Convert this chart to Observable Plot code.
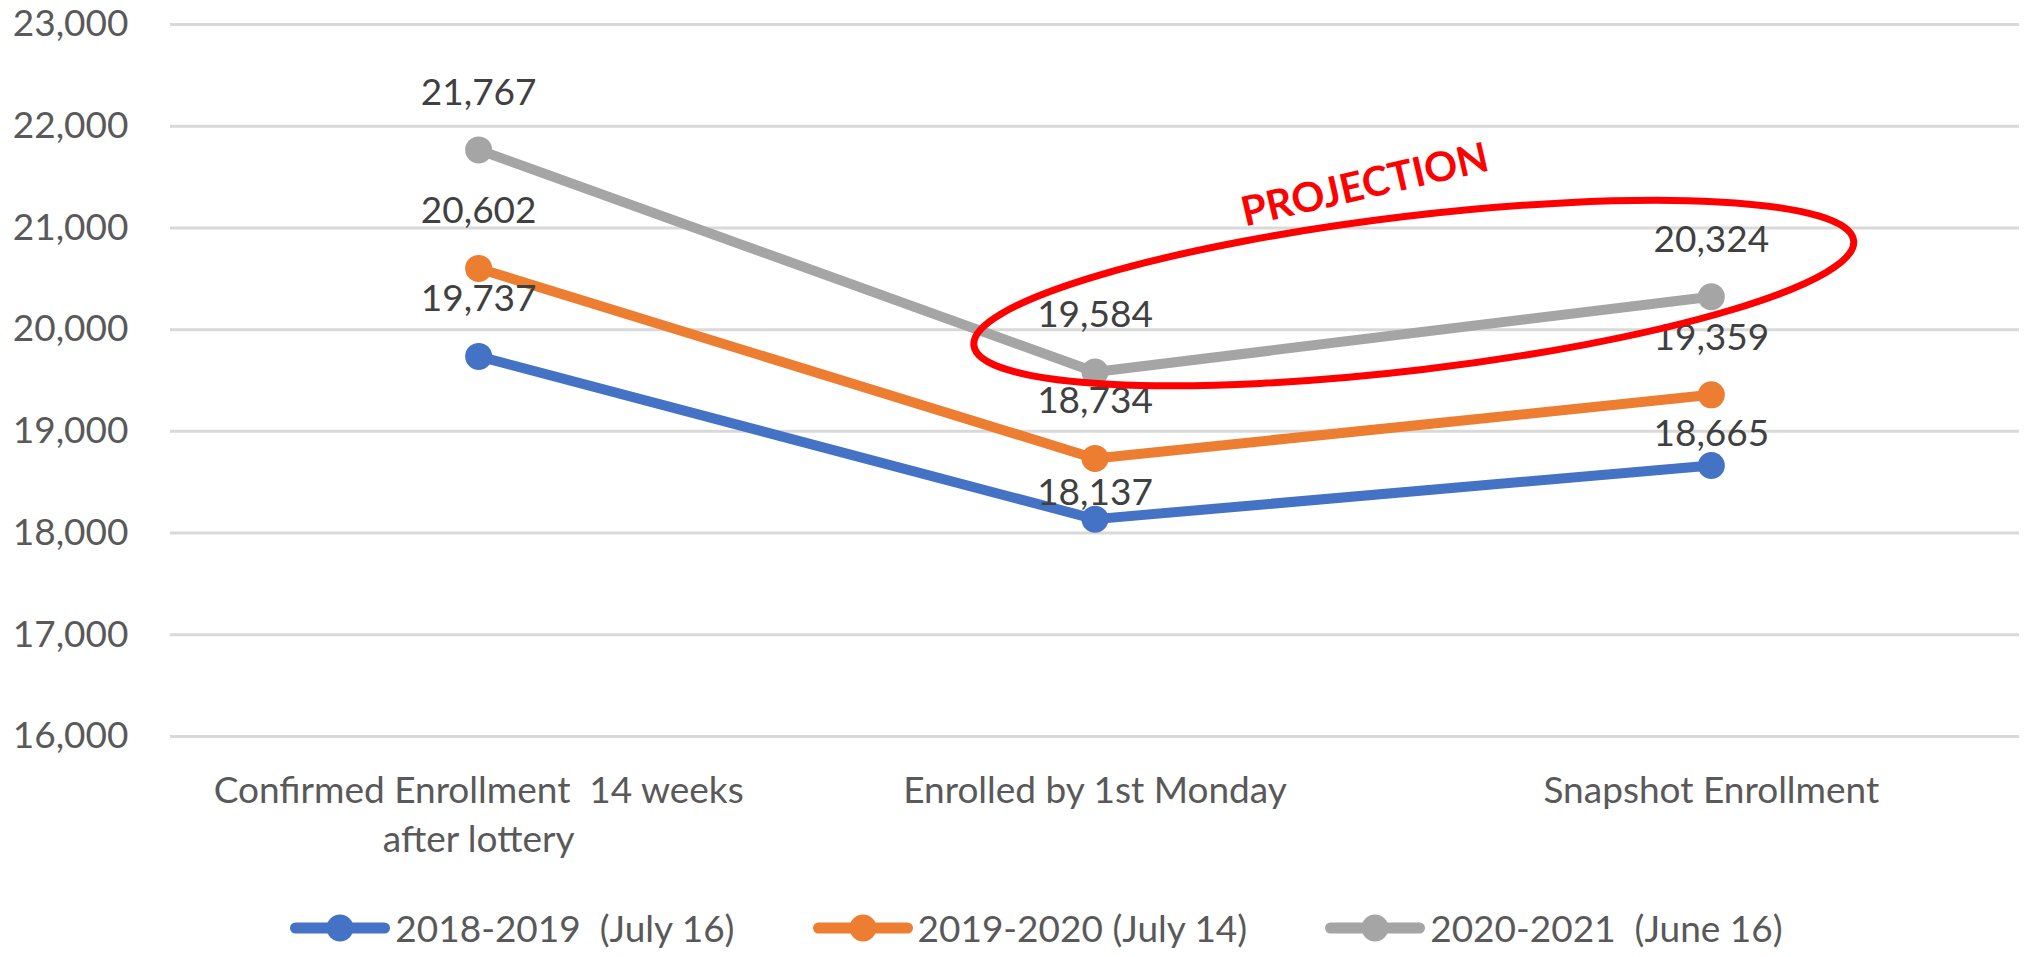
<!DOCTYPE html>
<html>
<head>
<meta charset="utf-8">
<script src="https://cdn.jsdelivr.net/npm/d3@7"></script>
<script src="https://cdn.jsdelivr.net/npm/@observablehq/plot@0.6"></script>
<style>
  html, body { margin: 0; padding: 0; background: #fff; }
  #chart { width: 2025px; }
  .legend { display: flex; justify-content: center; align-items: center; gap: 78px; height: 75px; padding-left: 48px;
            font-family: Lato, "Open Sans", sans-serif; font-size: 37px; color: #595959; }
  .legend .item { display: flex; align-items: center; white-space: pre; }
  .legend svg { margin-right: 5px; }
</style>
</head>
<body>
<div id="chart"></div>
<script>
// ---- data ----
const categories = ["Confirmed Enrollment \u00a014 weeks\nafter lottery", "Enrolled by 1st Monday", "Snapshot Enrollment"];
const seriesNames = ["2018-2019  (July 16)", "2019-2020 (July 14)", "2020-2021  (June 16)"];
const values2018 = [19737, 18137, 18665];
const values2019 = [20602, 18734, 19359];
const values2020 = [21767, 19584, 20324];
const seriesColors = ["#4472C4", "#ED7D31", "#A5A5A5"];
const yTicks = [16000, 17000, 18000, 19000, 20000, 21000, 22000, 23000];
const annotationText = "PROJECTION";

// ---- build table ----
const seriesValues = [values2018, values2019, values2020];
const rows = [];
seriesNames.forEach((s, k) => seriesValues[k].forEach((v, i) => rows.push({series: s, i, value: v})));

// a couple of labels sit closer to their points in the original
const nudged = new Map([[seriesNames[0] + "|1", -26], [seriesNames[0] + "|2", -31]]);
const keyOf = d => d.series + "|" + d.i;
const fmt = d3.format(",");
const font = "Lato, 'Open Sans', sans-serif";

const marks = [
  Plot.gridY(yTicks, {stroke: "#D9D9D9", strokeOpacity: 1, strokeWidth: 3}),
  Plot.axisY(yTicks, {tickFormat: fmt, tickSize: 0, tickPadding: 42, fontSize: 37, fill: "#595959", label: null}),
  Plot.axisX([0, 1, 2], {tickFormat: i => categories[i], tickSize: 0, tickPadding: 32, fontSize: 37, lineHeight: 1.32, fill: "#595959", label: null})
];
seriesNames.forEach(s => {
  const d = rows.filter(r => r.series === s);
  marks.push(Plot.line(d, {x: "i", y: "value", stroke: "series", strokeWidth: 10, strokeLinejoin: "round", strokeLinecap: "round"}));
  marks.push(Plot.dot(d, {x: "i", y: "value", fill: "series", r: 13.5, stroke: null}));
});
marks.push(Plot.text(rows.filter(d => !nudged.has(keyOf(d))), {x: "i", y: "value", text: d => fmt(d.value), dy: -57, fontSize: 37, fill: "#404040"}));
nudged.forEach((dy, key) => {
  marks.push(Plot.text(rows.filter(d => keyOf(d) === key), {x: "i", y: "value", text: d => fmt(d.value), dy, fontSize: 37, fill: "#404040"}));
});
marks.push(Plot.text([{i: 1.438, value: 21417}], {x: "i", y: "value", text: () => annotationText, rotate: -12.9, fontSize: 41, fontWeight: "bold", fill: "#FF0000"}));

const plot = Plot.plot({
  width: 2025,
  height: 890,
  marginLeft: 170,
  marginRight: 6,
  marginTop: 24,
  marginBottom: 154,
  style: {fontFamily: font, background: "#fff", overflow: "visible"},
  x: {type: "linear", domain: [-0.5, 2.5], axis: null},
  y: {domain: [16000, 23000], axis: null},
  color: {domain: seriesNames, range: seriesColors},
  marks
});

// ellipse around the projected values (centre given in data coordinates)
const xs = plot.scale("x"), ys = plot.scale("y");
const cx = xs.apply(1.518), cy = ys.apply(20355);
d3.select(plot).append("ellipse")
  .attr("cx", cx).attr("cy", cy).attr("rx", 443).attr("ry", 77)
  .attr("transform", `rotate(-6.8 ${cx} ${cy})`)
  .attr("fill", "none").attr("stroke", "#FF0000").attr("stroke-width", 7);

const chart = document.getElementById("chart");
chart.appendChild(plot);

// legend
const legend = document.createElement("div");
legend.className = "legend";
seriesNames.forEach((s, k) => {
  const item = document.createElement("div");
  item.className = "item";
  item.innerHTML = `<svg width="100" height="30"><line x1="5.5" y1="15" x2="94.5" y2="15" stroke="${seriesColors[k]}" stroke-width="11" stroke-linecap="round"/><circle cx="50" cy="15" r="13.5" fill="${seriesColors[k]}"/></svg><span>${s}</span>`;
  legend.appendChild(item);
});
chart.appendChild(legend);
</script>
</body>
</html>
